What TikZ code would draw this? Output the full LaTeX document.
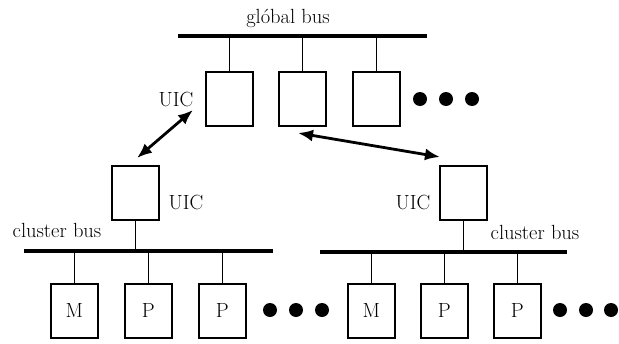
\documentclass[tikz,border=0pt]{standalone}
\usepackage{fontspec}
\setmainfont{Latin Modern Roman}
\usetikzlibrary{arrows.meta}
\begin{document}
\begin{tikzpicture}[x=1pt,y=-1pt,
  font=\fontsize{20.5}{24}\selectfont,
  unit/.style={draw,line width=1.5pt,minimum width=47pt,minimum height=54pt,inner sep=0pt,anchor=north west},
  bus/.style={line width=4.2pt},
  stub/.style={line width=1.5pt},
  dot/.style={circle,fill,minimum size=14pt,inner sep=0pt},
  link/.style={line width=2.8pt,{Latex[length=15pt,width=12pt]}-{Latex[length=15pt,width=12pt]}},
  lbl/.style={inner sep=0pt}]
\useasboundingbox (0,0) rectangle (619,343);

% global bus with its units
\coordinate (gL) at (178,36);
\coordinate (gR) at (427,36);
\draw[bus] (gL) -- (gR);
\node[lbl] (gtext) at (288,18) {gl\'obal bus};
\node[unit] (g1) at (205,71) {};
\node[unit] (g2) at (278,71) {};
\node[unit] (g3) at (352,71) {};
\foreach \n in {g1,g2,g3}
  \draw[stub] (\n.north) -- (\n.north |- gL);
\node[dot] (gd1) at (420,99) {};
\node[dot] (gd2) at (446,99) {};
\node[dot] (gd3) at (472,99) {};
\node[lbl] (guic) at (176,99) {UIC};

% left cluster
\node[unit] (lu) at (111,165) {};
\node[lbl] (luic) at (186,202) {UIC};
\coordinate (lL) at (24,251);
\coordinate (lR) at (273,251);
\draw[bus] (lL) -- (lR);
\draw[stub] (lu.south) -- (lu.south |- lL);
\node[lbl] (ltext) at (57,230) {cluster bus};
\node[unit] (lm)  at (50,283)  {M};
\node[unit] (lp1) at (124,283) {P};
\node[unit] (lp2) at (198,283) {P};
\foreach \n in {lm,lp1,lp2}
  \draw[stub] (\n.north) -- (\n.north |- lL);
\node[dot] (ld1) at (270,310) {};
\node[dot] (ld2) at (296,310) {};
\node[dot] (ld3) at (322,310) {};

% right cluster
\node[unit] (ru) at (439,165) {};
\node[lbl] (ruic) at (413,202) {UIC};
\coordinate (rL) at (320,252);
\coordinate (rR) at (567,252);
\draw[bus] (rL) -- (rR);
\draw[stub] (ru.south) -- (ru.south |- rL);
\node[lbl] (rtext) at (535,232) {cluster bus};
\node[unit] (rm)  at (347,283) {M};
\node[unit] (rp1) at (420,283) {P};
\node[unit] (rp2) at (493,283) {P};
\foreach \n in {rm,rp1,rp2}
  \draw[stub] (\n.north) -- (\n.north |- rL);
\node[dot] (rd1) at (560,310) {};
\node[dot] (rd2) at (586,310) {};
\node[dot] (rd3) at (611,310) {};

% links between the interface controllers
\coordinate (a1) at (137,158);
\coordinate (a2) at (193,110);
\draw[link] (a1) -- (a2);
\coordinate (b1) at (298,133);
\coordinate (b2) at (440,157);
\draw[link] (b1) -- (b2);
\end{tikzpicture}
\end{document}
